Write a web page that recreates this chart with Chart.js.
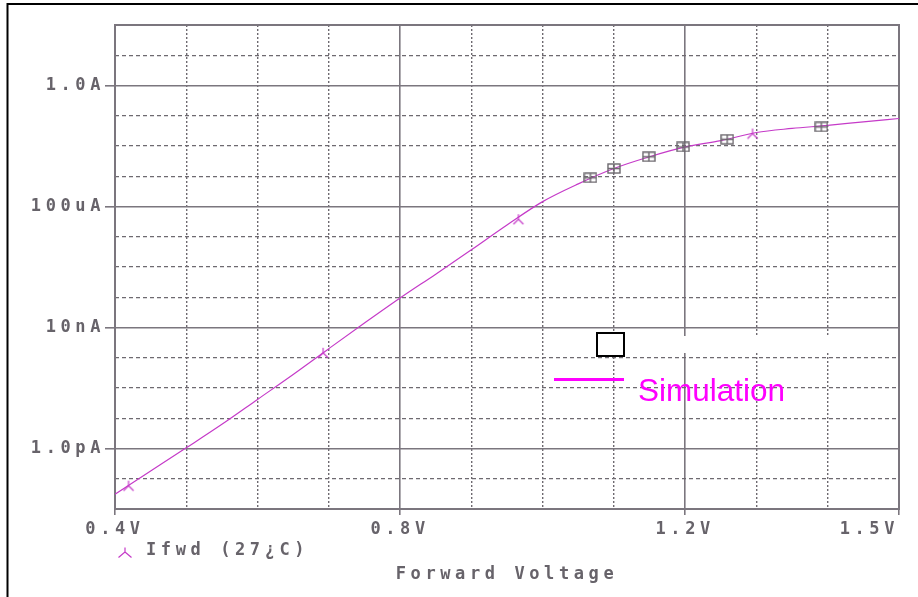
<!DOCTYPE html>
<html><head><meta charset="utf-8">
<script src="https://cdn.jsdelivr.net/npm/chart.js@4/dist/chart.umd.min.js"></script>
<style>html,body{margin:0;padding:0;background:#fff;overflow:hidden}#wrap{position:relative;width:918px;height:597px}</style>
</head><body><div id="wrap"><canvas id="c" width="918" height="597"></canvas></div>
<script>
// Simulated forward current (A) vs forward voltage (V)
const voltage = [0.40,0.45,0.50,0.55,0.60,0.65,0.70,0.75,0.80,0.85,0.90,0.95,1.00,1.05,1.10,1.15,1.20,1.25,1.30,1.35,1.40,1.45,1.50];
const current = [3.1e-14,1.8e-13,1.05e-12,6.3e-12,4.2e-11,2.8e-10,2.0e-9,1.4e-8,9.4e-8,5.8e-7,3.7e-6,2.45e-5,1.45e-4,5.6e-4,1.8e-3,4.4e-3,9.3e-3,1.5e-2,2.8e-2,3.8e-2,4.8e-2,6.3e-2,8.1e-2];
// trace marker positions
const markerV = [0.419,0.692,0.966,1.2945];
const markerI = [5.9e-14,1.46e-9,3.8e-5,2.58e-2];
// measured points
const measV = [1.067,1.100,1.149,1.197,1.259,1.391];
const measI = [8.9e-4,1.8e-3,4.4e-3,9.3e-3,1.67e-2,4.27e-2];
// axes
const xTickValues = [0.4,0.5,0.6,0.7,0.8,0.9,1.0,1.1,1.2,1.3,1.4,1.5];
const xTickLabels = ['0.4V','0.8V','1.2V','1.5V    '];
const xLabelAt = [0.4,0.8,1.2,1.5];
const yTickValues = [1e-14,1e-13,1e-12,1e-11,1e-10,1e-9,1e-8,1e-7,1e-6,1e-5,1e-4,1e-3,1e-2,1e-1,1,10,100];
const yTickLabels = ['1.0pA','10nA','100uA','1.0A'];
const yLabelAt = [1e-12,1e-8,1e-4,1];
const legendText = 'Ifwd (27\u00BFC)';
const xTitle = 'Forward Voltage';
const noteText = 'Simulation';

const GRID_SOLID = '#7b767e', GRID_DASH = '#6e6a70', TXT = '#67636a', CURVE = '#c53ac8';
const MONO = "'DejaVu Sans Mono', monospace";
const LS = '4.6px';

function findIdx(arr, v, log){ return arr.findIndex(a => log ? Math.abs(Math.log10(a)-Math.log10(v))<1e-6 : Math.abs(a-v)<1e-6); }

function makeY(){
  const c=document.createElement('canvas'); c.width=14; c.height=12;
  const g=c.getContext('2d'); g.strokeStyle=CURVE; g.lineWidth=1.2;
  g.beginPath(); g.moveTo(7,1); g.lineTo(7,6); g.moveTo(7,6); g.lineTo(2,11); g.moveTo(7,6); g.lineTo(12,11); g.stroke();
  return c;
}
function makeSq(){
  const c=document.createElement('canvas'); c.width=14; c.height=11;
  const g=c.getContext('2d'); g.strokeStyle='#6a666c'; g.lineWidth=1.4;
  g.strokeRect(1,1,12,9); g.beginPath(); g.moveTo(7,1); g.lineTo(7,10); g.moveTo(1,5.5); g.lineTo(13,5.5); g.stroke();
  return c;
}

const overlay = {
  id:'overlay',
  beforeDraw(chart){
    const c=chart.ctx; c.save(); c.fillStyle='#fff'; c.fillRect(0,0,chart.width,chart.height); c.restore();
    c.letterSpacing=LS;
  },
  beforeDatasetsDraw(chart){
    const c=chart.ctx, a=chart.chartArea; c.letterSpacing='0px';
    c.save(); c.strokeStyle=GRID_SOLID; c.lineWidth=2; c.strokeRect(a.left,a.top,a.right-a.left,a.bottom-a.top); c.restore();
  },
  afterDraw(chart){
    const c=chart.ctx; c.save();
    // outer frame
    c.strokeStyle='#000'; c.lineWidth=2; c.beginPath(); c.moveTo(7.5,597); c.lineTo(7.5,4); c.lineTo(918,4); c.stroke();
    // erased strip
    c.fillStyle='#fff'; c.fillRect(626,336,210,17);
    // black box
    c.fillStyle='#fff'; c.fillRect(596,332,28,24); c.strokeStyle='#000'; c.lineWidth=2; c.strokeRect(597,333,27,23);
    // simulation line + text
    c.strokeStyle='#ff00ff'; c.lineWidth=3; c.beginPath(); c.moveTo(554,379.5); c.lineTo(624,379.5); c.stroke();
    c.fillStyle='#ff00ff'; c.font="31.5px 'Liberation Sans', Arial, sans-serif"; c.textBaseline='alphabetic'; c.textAlign='left';
    c.fillText(noteText,638,401);
    // legend
    c.strokeStyle=CURVE; c.lineWidth=1.2; c.beginPath(); c.moveTo(125,547.5); c.lineTo(125,552); c.lineTo(118.5,557.5); c.moveTo(125,552); c.lineTo(131.5,557.5); c.stroke();
    c.letterSpacing=LS; c.fillStyle=TXT; c.font="bold 17px "+MONO; c.textBaseline='middle';
    c.fillText(legendText,146,551);
    c.restore(); c.letterSpacing='0px';
  }
};

new Chart(document.getElementById('c'),{
  type:'scatter',
  data:{datasets:[
    {data:voltage.map((v,i)=>({x:v,y:current[i]})),showLine:true,borderColor:CURVE,borderWidth:1.2,pointRadius:0,cubicInterpolationMode:'monotone',order:3},
    {data:markerV.map((v,i)=>({x:v,y:markerI[i]})),showLine:false,pointStyle:makeY(),pointRadius:6,order:2},
    {data:measV.map((v,i)=>({x:v,y:measI[i]})),showLine:false,pointStyle:makeSq(),pointRadius:6,order:1}
  ]},
  options:{
    responsive:false, devicePixelRatio:1, animation:false,
    layout:{padding:{top:25,right:19,left:0,bottom:0}},
    plugins:{legend:{display:false},tooltip:{enabled:false}},
    scales:{
      x:{type:'linear',min:0.4,max:1.5,
        afterBuildTicks:s=>{s.ticks=xTickValues.map(v=>({value:v}));},
        afterFit:s=>{s.height=88;s.paddingLeft=0;s.paddingRight=0;},
        ticks:{autoSkip:false,maxRotation:0,minRotation:0,padding:4,color:TXT,font:{family:MONO,weight:'bold',size:17},
          callback:v=>{const i=findIdx(xLabelAt,v,false);return i>=0?xTickLabels[i]:'';}},
        grid:{color:ctx=>findIdx(xLabelAt,ctx.tick.value,false)>=0?GRID_SOLID:GRID_DASH,
          lineWidth:ctx=>findIdx(xLabelAt,ctx.tick.value,false)>=0?1.6:1.4,
          tickLength:6,tickColor:ctx=>findIdx(xLabelAt,ctx.tick.value,false)>=0?GRID_SOLID:'rgba(0,0,0,0)',tickWidth:1.6},
        border:{display:false,dash:ctx=>findIdx(xLabelAt,ctx.tick.value,false)>=0?[]:[2,2]},
        title:{display:true,text:xTitle,color:TXT,font:{family:MONO,weight:'bold',size:17},padding:{top:0,bottom:12}}
      },
      y:{type:'logarithmic',min:1e-14,max:100,
        afterBuildTicks:s=>{s.ticks=yTickValues.map(v=>({value:v}));},
        afterFit:s=>{s.width=115;s.paddingTop=0;s.paddingBottom=0;},
        ticks:{autoSkip:false,padding:0,color:TXT,font:{family:MONO,weight:'bold',size:17},
          callback:v=>{const i=findIdx(yLabelAt,v,true);return i>=0?yTickLabels[i]:'';}},
        grid:{color:ctx=>findIdx(yLabelAt,ctx.tick.value,true)>=0?GRID_SOLID:GRID_DASH,
          lineWidth:ctx=>findIdx(yLabelAt,ctx.tick.value,true)>=0?1.6:1.3,
          tickLength:10,tickColor:ctx=>findIdx(yLabelAt,ctx.tick.value,true)>=0?GRID_SOLID:'rgba(0,0,0,0)',tickWidth:1.6},
        border:{display:false,dash:ctx=>findIdx(yLabelAt,ctx.tick.value,true)>=0?[]:[4,3]}
      }
    }
  },
  plugins:[overlay]
});
</script></body></html>
